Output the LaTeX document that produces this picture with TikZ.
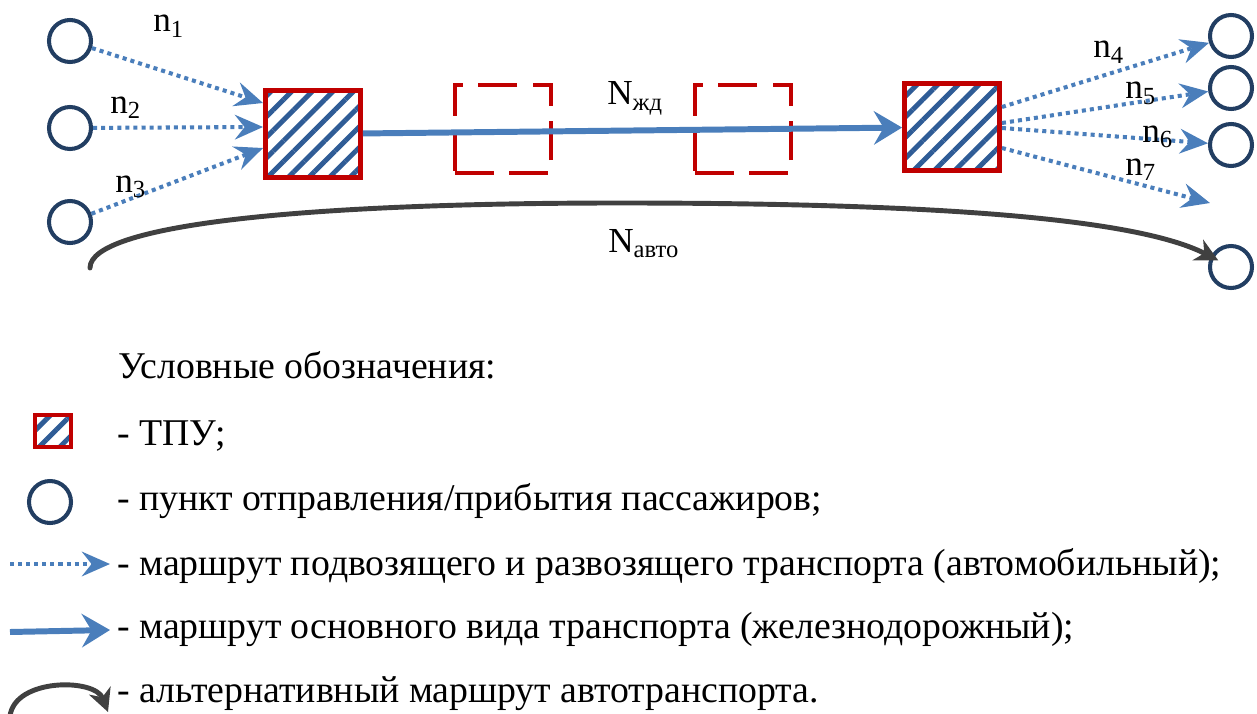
\documentclass[tikz,border=0pt]{standalone}
\usepackage{fontspec}
\setmainfont{Liberation Serif}
\usetikzlibrary{arrows.meta,patterns.meta}

\definecolor{navy}{RGB}{34,62,98}
\definecolor{hatch}{RGB}{47,92,150}
\definecolor{tpured}{RGB}{192,0,0}
\definecolor{route}{RGB}{74,126,187}
\definecolor{altgray}{RGB}{64,64,64}

\begin{document}
\begin{tikzpicture}[x=0.02cm, y=-0.02cm,
    pnt/.style={circle, draw=navy, line width=2.3pt, minimum size=0.84cm, inner sep=0pt},
    tpu/.style={draw=tpured, line width=2.8pt, pattern={Lines[angle=45,distance=8.3pt,line width=2.8pt]},
      pattern color=hatch, minimum width=1.9cm, minimum height=1.75cm, inner sep=0pt},
    halt/.style={draw=tpured, line width=2.3pt, dash pattern=on 22pt off 9pt,
      minimum width=1.92cm, minimum height=1.76cm, inner sep=0pt},
    feed/.style={draw=route, line width=2.3pt, dash pattern=on 2.3pt off 2.3pt,
      -{Stealth[length=16pt,width=14pt,inset=5.5pt]}},
    rail/.style={draw=route, line width=3.4pt, -{Stealth[length=16pt,width=19pt,inset=5.5pt]}},
    detour/.style={draw=altgray, line width=2.8pt, line cap=round, -{Stealth[length=13pt,width=13pt,inset=4pt]}},
    lbl/.style={font=\fontsize{20}{24}\selectfont, inner sep=0pt, anchor=base west},
    txt/.style={font=\fontsize{21.5}{26}\selectfont, inner sep=0pt, anchor=base west}]

  \useasboundingbox (0,0) rectangle (1257,713);

  % points of departure / arrival
  \foreach \n/\y in {1/41,2/128,3/222}
    \node[pnt] (a\n) at (70,\y) {};
  \foreach \n/\y in {1/36,2/88,3/145,4/267}
    \node[pnt] (b\n) at (1231,\y) {};

  % TPU and intermediate stops
  \node[tpu] (t1) at (313,134) {};
  \node[tpu] (t2) at (952,127) {};
  \node[halt] (h1) at (503,129) {};
  \node[halt] (h2) at (743,129) {};

  \draw[rail] (t1) -- (t2);
  \node[lbl] (nzd) at (607,105) {N\textsubscript{жд}};

  \foreach \n/\y in {1/103,2/127,3/148}
    \draw[feed] (a\n) -- (t1.west |- 0,\y);
  \foreach \n/\y in {1/107,2/123,3/128}
    \draw[feed] (t2.east |- 0,\y) -- (b\n);
  \coordinate (e4) at (1210,203);
  \draw[feed] (t2.east |- 0,148) -- (e4);

  \node[lbl] (n1) at (153,32) {n\textsubscript{1}};
  \node[lbl] (n2) at (110,113) {n\textsubscript{2}};
  \node[lbl] (n3) at (115,192) {n\textsubscript{3}};
  \node[lbl] (n4) at (1093,58) {n\textsubscript{4}};
  \node[lbl] (n5) at (1125,99) {n\textsubscript{5}};
  \node[lbl] (n6) at (1142,142) {n\textsubscript{6}};
  \node[lbl] (n7) at (1125,175) {n\textsubscript{7}};

  % alternative road route
  \coordinate (c0) at (90,268);
  \draw[detour, shorten >=-5pt] (c0) .. controls (90,225) and (300,203) .. (620,203)
    .. controls (900,203) and (1130,215) .. (b4);
  \node[lbl] (nav) at (608,252) {N\textsubscript{авто}};

  % legend
  \node[txt] (key) at (118,378) {Условные обозначения:};
  \node[tpu, line width=2.3pt, minimum width=0.72cm, minimum height=0.64cm] (k1) at (53,431) {};
  \node[txt] (k1t) at (117,445) {- ТПУ;};
  \node[pnt] (k2) at (50,502) {};
  \node[txt] (k2t) at (117,510) {- пункт отправления/прибытия пассажиров;};
  \coordinate (k3a) at (10,564);
  \coordinate (k3b) at (110,564);
  \draw[feed] (k3a) -- (k3b);
  \node[txt] (k3t) at (117,575) {- маршрут подвозящего и развозящего транспорта (автомобильный);};
  \coordinate (k4a) at (10,632);
  \coordinate (k4b) at (110,630);
  \draw[rail] (k4a) -- (k4b);
  \node[txt] (k4t) at (117,638) {- маршрут основного вида транспорта (железнодорожный);};
  \coordinate (k5a) at (10,716);
  \coordinate (k5b) at (108,712);
  \draw[detour] (k5a) .. controls (15,678) and (95,678) .. (k5b);
  \node[txt] (k5t) at (117,702) {- альтернативный маршрут автотранспорта.};
\end{tikzpicture}
\end{document}
